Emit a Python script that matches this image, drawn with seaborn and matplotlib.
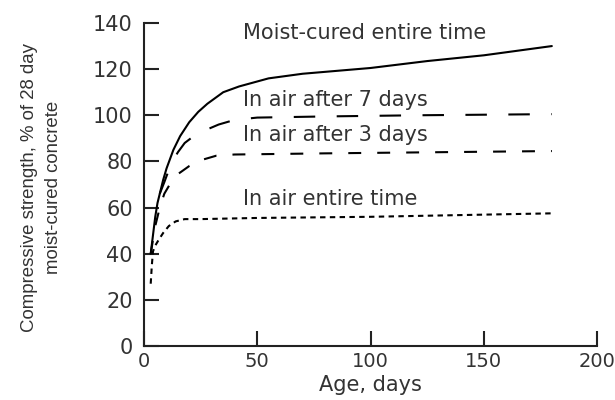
import pandas as pd
import matplotlib.pyplot as plt
import seaborn as sns

# Values (age in days, strength in % of 28-day moist-cured)
moist_days = [3, 4, 5, 6, 7, 8.5, 10, 13, 16, 20, 24, 28, 35, 42, 55, 70, 100, 125, 150, 180]
moist_strength = [40, 48, 56, 62, 66, 72, 77, 85, 91, 97, 101.5, 105, 110, 112.5, 116, 118, 120.5, 123.5, 126, 130]

air7_days = [7, 9, 12, 15, 18, 22, 27, 33, 40, 50, 80, 120, 180]
air7_strength = [66, 71, 79, 84, 88, 91, 93.5, 96, 98, 99, 99.5, 100, 100.5]

air3_days = [3, 5, 7, 9, 12, 15, 20, 25, 32, 40, 80, 180]
air3_strength = [40, 52, 60, 66, 71, 74.5, 78, 80.5, 82.5, 83, 83.5, 84.5]

air_days = [3, 3.5, 4, 5, 6.5, 8.5, 11, 14, 18, 25, 50, 100, 180]
air_strength = [27, 35, 41, 43.5, 46, 49, 52, 54, 55, 55, 55.5, 56, 57.5]

curve_names = ['Moist-cured entire time', 'In air after 7 days', 'In air after 3 days', 'In air entire time']
label_x = [43.7, 43.7, 43.7, 43.7]
label_y = [135.5, 106.5, 91.5, 63.5]

frames = []
for name, d, s in zip(curve_names,
                      [moist_days, air7_days, air3_days, air_days],
                      [moist_strength, air7_strength, air3_strength, air_strength]):
    frames.append(pd.DataFrame({'day': d, 'strength': s, 'curing': name}))
data = pd.concat(frames, ignore_index=True)

sns.set_style('ticks')
plt.rcParams['font.family'] = ['DejaVu Sans']
text_color = '#333333'

fig = plt.figure(figsize=(6.15, 4), dpi=100)
ax = fig.add_axes([0.234, 0.135, 0.737, 0.8075])

dashes = {
    'Moist-cured entire time': '',
    'In air after 7 days': (10.3, 10.3),
    'In air after 3 days': (6.2, 7.7),
    'In air entire time': (2.6, 2.1),
}
sns.lineplot(data=data, x='day', y='strength', style='curing', dashes=dashes,
             color='black', linewidth=1.5, estimator=None, sort=False,
             legend=False, ax=ax)

for name, x, y in zip(curve_names, label_x, label_y):
    ax.text(x, y, name, ha='left', va='center', fontsize=15, color=text_color)

ax.set_xlim(0, 200)
ax.set_ylim(0, 140)
ax.set_xticks(range(0, 201, 50))
ax.set_yticks(range(0, 141, 20))
sns.despine(ax=ax)
for side in ['left', 'bottom']:
    ax.spines[side].set_linewidth(1.5)
    ax.spines[side].set_color('#222222')
ax.tick_params(axis='both', direction='in', length=11, width=1.5, color='#222222',
               labelsize=15, labelcolor=text_color)
ax.tick_params(axis='y', pad=8)
ax.tick_params(axis='x', pad=4, labelsize=14)

ax.set_xlabel('Age, days', fontsize=15, color=text_color, labelpad=3)
ax.set_ylabel('')
fig.text(41.5 / 615, 1 - 187 / 400, 'Compressive strength, % of 28 day\nmoist-cured concrete',
         rotation=90, ha='center', va='center', fontsize=13.4, linespacing=1.6,
         color=text_color, family=['Liberation Sans', 'DejaVu Sans'])

plt.savefig('out.png', dpi=100)
